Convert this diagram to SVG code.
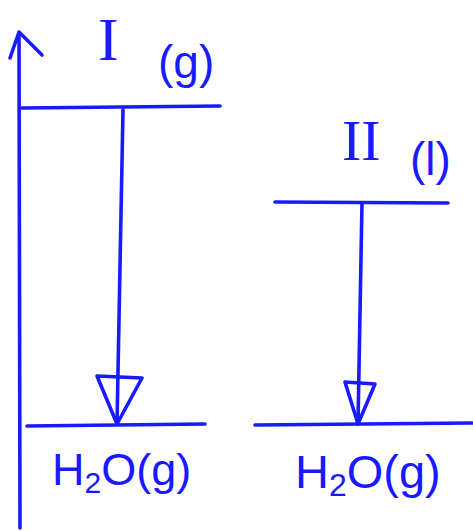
<svg xmlns="http://www.w3.org/2000/svg" width="473" height="531" viewBox="0 0 473 531">
<style>
.ln{stroke:#1a1aff;stroke-width:3.6;fill:none;stroke-linecap:round;stroke-linejoin:round}
.t{fill:#1a1aff;font-family:"Liberation Sans",Arial,sans-serif}
.r{fill:#1a1aff;font-family:"Liberation Serif","Times New Roman",serif}
</style>
<rect width="473" height="531" fill="#ffffff"/>
<g id="axis">
<path class="ln" d="M20,528 L19,33"/>
<path class="ln" d="M10,58 L19,32 L42,55"/>
</g>
<g id="level-I">
<path class="ln" d="M22,108 L220,106"/>
<text class="r" x="98" y="60" font-size="62">I</text>
<text class="t" x="158" y="78" font-size="46">(g)</text>
</g>
<g id="level-II">
<path class="ln" d="M275,202 L448,203"/>
<text class="r" x="342" y="160" font-size="58">II</text>
<text class="t" x="410" y="175" font-size="46">(l)</text>
</g>
<g id="product-left">
<path class="ln" d="M27,426 L205,424"/>
<text class="t" x="52" y="485" font-size="45">H<tspan font-size="30" dy="8">2</tspan><tspan dy="-8">O(g)</tspan></text>
</g>
<g id="product-right">
<path class="ln" d="M255,425 L472,423"/>
<text class="t" x="295" y="488" font-size="47">H<tspan font-size="32" dy="8">2</tspan><tspan dy="-8">O(g)</tspan></text>
</g>
<g id="connectors">
<path class="ln" d="M123,110 L117,424"/>
<path class="ln" d="M97,376 L142,378 L117,424 Z"/>
<path class="ln" d="M362,203 L358,424"/>
<path class="ln" d="M345,382 L375,384 L358,424 Z"/>
</g>
</svg>
